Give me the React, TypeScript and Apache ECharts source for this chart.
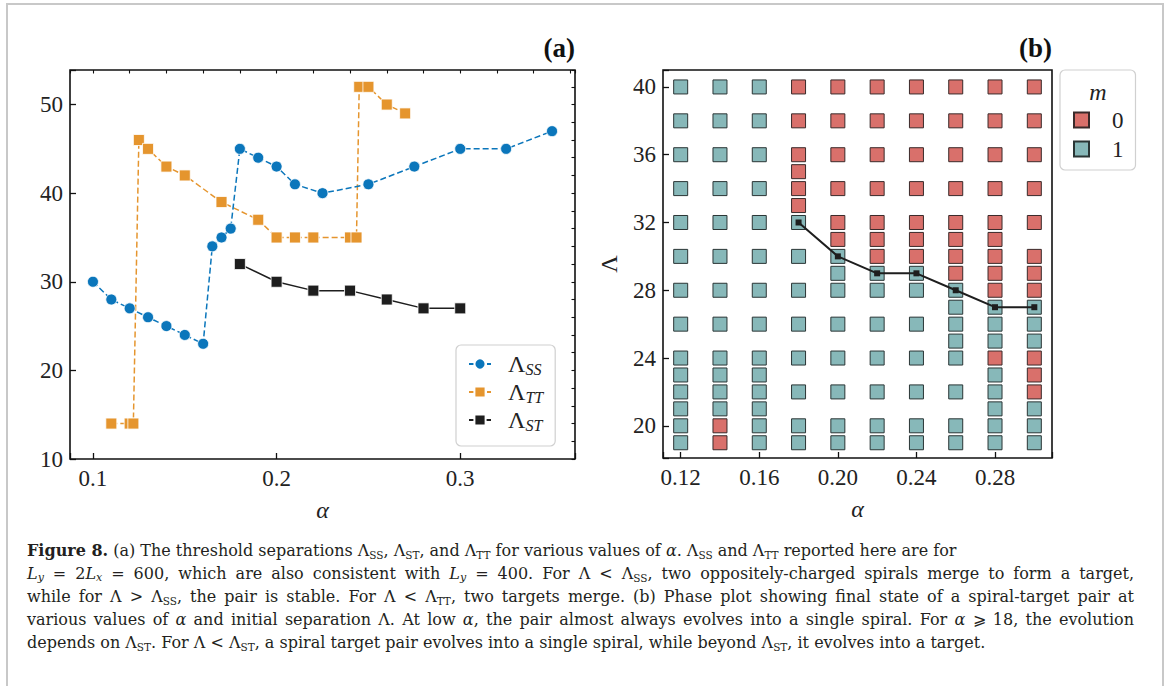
import React, { useEffect, useRef } from 'react';
import * as echarts from 'echarts';

// ---------- Panel (a) data ----------
const ssAlpha = [0.10, 0.11, 0.12, 0.13, 0.14, 0.15, 0.16, 0.165, 0.17, 0.175, 0.18, 0.19, 0.20, 0.21, 0.225, 0.25, 0.275, 0.30, 0.325, 0.35];
const ssLambda = [30, 28, 27, 26, 25, 24, 23, 34, 35, 36, 45, 44, 43, 41, 40, 41, 43, 45, 45, 47];
const ttAlpha = [0.11, 0.12, 0.122, 0.125, 0.13, 0.14, 0.15, 0.17, 0.19, 0.20, 0.21, 0.22, 0.24, 0.2435, 0.245, 0.25, 0.26, 0.27];
const ttLambda = [14, 14, 14, 46, 45, 43, 42, 39, 37, 35, 35, 35, 35, 35, 52, 52, 50, 49];
const stAlpha = [0.18, 0.20, 0.22, 0.24, 0.26, 0.28, 0.30];
const stLambda = [32, 30, 29, 29, 28, 27, 27];

// ---------- Panel (b) data ----------
const phaseAlpha = [0.12, 0.14, 0.16, 0.18, 0.20, 0.22, 0.24, 0.26, 0.28, 0.30];
const phaseM0 = [
  [],
  [19, 20],
  [],
  [33, 34, 35, 36, 38, 40],
  [31, 32, 34, 36, 38, 40],
  [30, 31, 32, 34, 36, 38, 40],
  [30, 31, 32, 34, 36, 38, 40],
  [29, 30, 31, 32, 34, 36, 38, 40],
  [24, 28, 29, 30, 31, 32, 34, 36, 38, 40],
  [22, 23, 24, 28, 29, 30, 32, 34, 36, 38, 40],
];
const phaseM1 = [
  [19, 20, 21, 22, 23, 24, 26, 28, 30, 32, 34, 36, 38, 40],
  [21, 22, 23, 24, 26, 28, 30, 32, 34, 36, 38, 40],
  [19, 20, 21, 22, 23, 24, 26, 28, 30, 32, 34, 36, 38, 40],
  [19, 20, 22, 24, 26, 28, 30, 32],
  [19, 20, 22, 24, 26, 28, 29, 30],
  [19, 20, 22, 24, 26, 28, 29],
  [19, 20, 22, 24, 26, 28, 29],
  [19, 20, 22, 24, 25, 26, 27, 28],
  [19, 20, 21, 22, 23, 25, 26, 27],
  [19, 20, 21, 25, 26, 27],
];

const ticksA_x = { major: 0.1, minor: 0.02 };
const ticksA_y = { major: 10, minor: 2 };
const ticksB_x = 0.04;
const ticksB_y = 4;

const BLUE = '#0B76BB';
const ORANGE = '#E5952E';
const BLACK = '#1e1e1e';
const RED = '#D9706B';
const TEAL = '#87B8B9';
const SERIF = '"Liberation Serif", "DejaVu Serif", serif';
const CAPSERIF = '"DejaVu Serif", "Liberation Serif", serif';

const zip = (a: number[], b: number[]) => a.map((v, i) => [v, b[i]]);
const isMult = (v: number, s: number) => Math.abs(v / s - Math.round(v / s)) < 1e-6;

const captionLines = [
  '{b|Figure 8.} (a) The threshold separations Λ{s|SS}, Λ{s|ST}, and Λ{s|TT} for various values of {i|α}. Λ{s|SS} and Λ{s|TT} reported here are for',
  '{i|L}{si|y} = 2{i|L}{si|x} = 600, which are also consistent with {i|L}{si|y} = 400. For Λ < Λ{s|SS}, two oppositely-charged spirals merge to form a target,',
  'while for Λ > Λ{s|SS}, the pair is stable. For Λ < Λ{s|TT}, two targets merge. (b) Phase plot showing final state of a spiral-target pair at',
  'various values of {i|α} and initial separation Λ. At low {i|α}, the pair almost always evolves into a single spiral. For {i|α} ⩾ 18, the evolution',
  'depends on Λ{s|ST}. For Λ < Λ{s|ST}, a spiral target pair evolves into a single spiral, while beyond Λ{s|ST}, it evolves into a target.',
];
const captionJustified = [false, true, true, true, false];

export default function App() {
  const ref = useRef<HTMLDivElement>(null);
  useEffect(() => {
    if (!ref.current) return;
    const chart = echarts.init(ref.current, undefined, { renderer: 'svg' });

    const tickLabel = { fontFamily: SERIF, fontSize: 23, color: '#222' };
    const capFs = 16;
    const capX = 27;
    const capRight = 1134;
    const capColor = '#231f20';
    const capStyles: Record<string, any> = {
      b: { fontFamily: CAPSERIF, fontSize: capFs, fontWeight: 'bold', color: capColor },
      i: { fontFamily: CAPSERIF, fontSize: capFs, fontStyle: 'italic', color: capColor },
      s: { fontFamily: CAPSERIF, fontSize: 10.5, padding: [9, 0, 0, 0], color: capColor },
      si: { fontFamily: CAPSERIF, fontSize: 11, fontStyle: 'italic', padding: [9, 0, 0, 0], color: capColor },
    };

    // measure caption lines to justify them like the typeset reference
    const cv = document.createElement('canvas').getContext('2d') as CanvasRenderingContext2D;
    const fontOf = (st: any) =>
      `${st.fontStyle || 'normal'} ${st.fontWeight || 'normal'} ${st.fontSize}px ${st.fontFamily}`;
    const plainStyle = { fontFamily: CAPSERIF, fontSize: capFs };
    const buildLine = (line: string, justify: boolean) => {
      const re = /\{(\w+)\|([^}]*)\}|([^{]+)/g;
      const segs: { style: string | null; text: string }[] = [];
      let m: RegExpExecArray | null;
      while ((m = re.exec(line))) {
        if (m[1]) segs.push({ style: m[1], text: m[2] });
        else segs.push({ style: null, text: m[3] });
      }
      let width = 0;
      let spaces = 0;
      segs.forEach((sg) => {
        cv.font = fontOf(sg.style ? capStyles[sg.style] : plainStyle);
        width += cv.measureText(sg.text).width;
        if (!sg.style) spaces += (sg.text.match(/ /g) || []).length;
      });
      cv.font = fontOf(plainStyle);
      const spaceW = cv.measureText(' ').width;
      const rich: Record<string, any> = { ...capStyles };
      if (!justify || spaces === 0) return { text: line, rich };
      const extra = (capRight - capX - width) / spaces;
      rich.w = { fontFamily: CAPSERIF, fontSize: capFs, width: Math.max(spaceW, spaceW + extra) };
      const text = segs
        .map((sg) => (sg.style ? `{${sg.style}|${sg.text}}` : sg.text.split(' ').join('{w| }')))
        .join('');
      return { text, rich };
    };

    const m0Data: number[][] = [];
    const m1Data: number[][] = [];
    phaseAlpha.forEach((a, i) => {
      phaseM0[i].forEach((l) => m0Data.push([a, l]));
      phaseM1[i].forEach((l) => m1Data.push([a, l]));
    });

    const legendNames: Record<string, string> = { SS: '{L|Λ}{s|SS}', TT: '{L|Λ}{s|TT}', ST: '{L|Λ}{s|ST}' };

    chart.setOption({
      animation: false,
      backgroundColor: '#fff',
      grid: [
        { left: 70, top: 70, width: 505, height: 389, show: true, borderColor: '#111', borderWidth: 1.6, backgroundColor: 'transparent' },
        { left: 663, top: 70, width: 389, height: 388, show: true, borderColor: '#111', borderWidth: 1.6, backgroundColor: 'transparent' },
      ],
      xAxis: [
        {
          gridIndex: 0, type: 'value', min: 0.0875, max: 0.3625,
          minInterval: ticksA_x.major, maxInterval: ticksA_x.major,
          axisLine: { show: false }, splitLine: { show: false },
          axisTick: { inside: true, length: 6, lineStyle: { color: '#111', width: 1.3 } },
          axisLabel: { ...tickLabel, margin: 8, formatter: (v: number) => (isMult(v, ticksA_x.major) ? v.toFixed(1) : '') },
          name: 'α', nameLocation: 'middle', nameGap: 39,
          nameTextStyle: { fontFamily: SERIF, fontSize: 24, fontStyle: 'italic', color: '#222' },
        },
        {
          gridIndex: 0, type: 'value', min: 0.0875, max: 0.3625,
          minInterval: ticksA_x.minor, maxInterval: ticksA_x.minor,
          axisLine: { show: false }, splitLine: { show: false }, axisLabel: { show: false },
          axisTick: { inside: true, length: 3.5, lineStyle: { color: '#111', width: 1.1 } },
        },
        {
          gridIndex: 1, type: 'value', min: 0.111, max: 0.309,
          minInterval: ticksB_x, maxInterval: ticksB_x,
          axisLine: { show: false }, splitLine: { show: false },
          axisTick: { inside: true, length: 6, lineStyle: { color: '#111', width: 1.3 } },
          axisLabel: { ...tickLabel, margin: 8, formatter: (v: number) => (isMult(v, ticksB_x) ? v.toFixed(2) : '') },
          name: 'α', nameLocation: 'middle', nameGap: 39,
          nameTextStyle: { fontFamily: SERIF, fontSize: 24, fontStyle: 'italic', color: '#222' },
        },
      ],
      yAxis: [
        {
          gridIndex: 0, type: 'value', min: 10, max: 53.9,
          minInterval: ticksA_y.major, maxInterval: ticksA_y.major,
          axisLine: { show: false }, splitLine: { show: false },
          axisTick: { inside: true, length: 6, lineStyle: { color: '#111', width: 1.3 } },
          axisLabel: { ...tickLabel, margin: 7, formatter: (v: number) => (isMult(v, ticksA_y.major) ? String(Math.round(v)) : '') },
        },
        {
          gridIndex: 0, type: 'value', min: 10, max: 53.9,
          minInterval: ticksA_y.minor, maxInterval: ticksA_y.minor,
          axisLine: { show: false }, splitLine: { show: false }, axisLabel: { show: false },
          axisTick: { inside: true, length: 3.5, lineStyle: { color: '#111', width: 1.1 } },
        },
        {
          gridIndex: 1, type: 'value', min: 18.1, max: 41,
          minInterval: ticksB_y, maxInterval: ticksB_y,
          axisLine: { show: false }, splitLine: { show: false },
          axisTick: { inside: true, length: 6, lineStyle: { color: '#111', width: 1.3 } },
          axisLabel: { ...tickLabel, margin: 7, formatter: (v: number) => (isMult(v, ticksB_y) ? String(Math.round(v)) : '') },
          name: 'Λ', nameLocation: 'middle', nameGap: 42,
          nameTextStyle: { fontFamily: SERIF, fontSize: 24, color: '#222' },
        },
      ],
      legend: [
        {
          data: ['SS', 'TT', 'ST'], orient: 'vertical', left: 456, top: 345,
          padding: [6, 12, 13, 12], itemGap: 2, itemWidth: 22, itemHeight: 14,
          backgroundColor: '#fff', borderColor: '#d0d0d0', borderWidth: 1.2, borderRadius: 5,
          formatter: (n: string) => legendNames[n],
          textStyle: {
            rich: {
              L: { fontFamily: SERIF, fontSize: 24, lineHeight: 26, color: '#222', padding: [0, 0, 0, 12] },
              s: { fontFamily: SERIF, fontSize: 16, fontStyle: 'italic', lineHeight: 26, padding: [10, 0, 0, 0], color: '#222' },
            },
          },
        },
        {
          data: ['0', '1'], orient: 'vertical', left: 1060, top: 70,
          padding: [37, 12, 8, 13], itemGap: 3, itemWidth: 15, itemHeight: 15,
          backgroundColor: '#fff', borderColor: '#d0d0d0', borderWidth: 1.2, borderRadius: 5,
          textStyle: { fontFamily: SERIF, fontSize: 23, lineHeight: 26, color: '#222', padding: [0, 0, 0, 18] },
        },
      ],
      graphic: [
        { type: 'rect', shape: { x: 7, y: 4, width: 1156, height: 720 }, style: { fill: 'none', stroke: '#c8c8c8', lineWidth: 2 }, silent: true, z: -10 },
        { type: 'text', x: 575, y: 48, style: { text: '(a)', fontFamily: SERIF, fontSize: 27, fontWeight: 'bold', fill: '#111', textAlign: 'right', textVerticalAlign: 'middle' } },
        { type: 'text', x: 1052, y: 48, style: { text: '(b)', fontFamily: SERIF, fontSize: 27, fontWeight: 'bold', fill: '#111', textAlign: 'right', textVerticalAlign: 'middle' } },
        { type: 'text', x: 1098, y: 92, z: 100, style: { text: 'm', fontFamily: SERIF, fontSize: 24, fontStyle: 'italic', fill: '#222', textAlign: 'center', textVerticalAlign: 'middle' } },
        ...captionLines.map((t, i) => {
          const built = buildLine(t, captionJustified[i]);
          return {
            type: 'text', x: capX, y: 550 + i * 23,
            style: { text: built.text, fontFamily: CAPSERIF, fontSize: capFs, fill: capColor, textVerticalAlign: 'middle', rich: built.rich },
          };
        }),
      ],
      series: [
        {
          name: 'SS', type: 'line', xAxisIndex: 0, yAxisIndex: 0, data: zip(ssAlpha, ssLambda),
          symbol: 'circle', symbolSize: 11, z: 3,
          lineStyle: { color: BLUE, width: 1.5, type: [6, 3] },
          itemStyle: { color: BLUE, borderColor: '#fff', borderWidth: 0.8 },
        },
        {
          name: 'TT', type: 'line', xAxisIndex: 0, yAxisIndex: 0, data: zip(ttAlpha, ttLambda),
          symbol: 'rect', symbolSize: 11, z: 2,
          lineStyle: { color: ORANGE, width: 1.5, type: [6, 3] },
          itemStyle: { color: ORANGE, borderColor: '#fff', borderWidth: 0.8 },
        },
        {
          name: 'ST', type: 'line', xAxisIndex: 0, yAxisIndex: 0, data: zip(stAlpha, stLambda),
          symbol: 'rect', symbolSize: 11, z: 4,
          lineStyle: { color: BLACK, width: 1.5 },
          itemStyle: { color: BLACK, borderColor: '#fff', borderWidth: 0.8 },
        },
        {
          name: '0', type: 'scatter', xAxisIndex: 2, yAxisIndex: 2, data: m0Data,
          symbol: 'rect', symbolSize: 14, z: 2,
          itemStyle: { color: RED, borderColor: '#3a2a2a', borderWidth: 1, opacity: 1 },
        },
        {
          name: '1', type: 'scatter', xAxisIndex: 2, yAxisIndex: 2, data: m1Data,
          symbol: 'rect', symbolSize: 14, z: 2,
          itemStyle: { color: TEAL, borderColor: '#2a3535', borderWidth: 1, opacity: 1 },
        },
        {
          name: 'STb', type: 'line', xAxisIndex: 2, yAxisIndex: 2, data: zip(stAlpha, stLambda),
          symbol: 'rect', symbolSize: 6, z: 5,
          lineStyle: { color: BLACK, width: 2 },
          itemStyle: { color: BLACK },
        },
      ],
    });
    return () => chart.dispose();
  }, []);
  return <div ref={ref} style={{ position: 'fixed', left: 0, top: 0, width: 1167, height: 686 }} />;
}
